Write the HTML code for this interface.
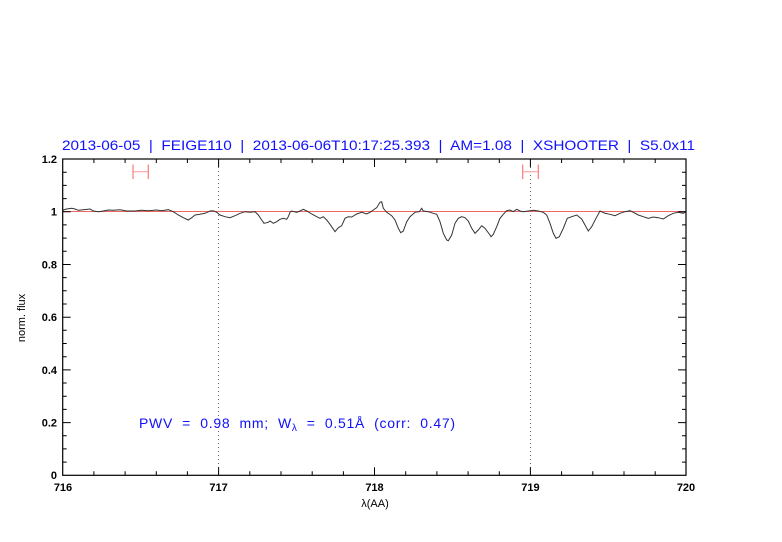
<!DOCTYPE html>
<html><head><meta charset="utf-8"><style>
html,body{margin:0;padding:0;background:#fff;}
svg{display:block;}
text{font-family:"Liberation Sans",sans-serif;white-space:pre;}
</style></head><body>
<svg width="782" height="542" viewBox="0 0 782 542" xmlns="http://www.w3.org/2000/svg" xml:space="preserve">
<rect width="782" height="542" fill="#fff"/>
<!-- title -->
<text x="62" y="150" font-size="14" fill="#1010ff" textLength="633" lengthAdjust="spacingAndGlyphs">2013-06-05  |  FEIGE110  |  2013-06-06T10:17:25.393  |  AM=1.08  |  XSHOOTER  |  S5.0x11</text>
<!-- dotted verticals -->
<line x1="218.5" y1="159" x2="218.5" y2="475" stroke="#666" stroke-width="1" stroke-dasharray="1,3"/>
<line x1="530.5" y1="159" x2="530.5" y2="475" stroke="#666" stroke-width="1" stroke-dasharray="1,3"/>
<!-- reference line -->
<line x1="62.7" y1="211.5" x2="686" y2="211.5" stroke="#ee6666" stroke-width="1"/>
<!-- error bars -->
<g stroke="#f77" stroke-width="1.2">
<line x1="133" y1="171.7" x2="148.3" y2="171.7" stroke="#faa"/>
<line x1="133" y1="164.5" x2="133" y2="179"/>
<line x1="148.3" y1="164.5" x2="148.3" y2="179"/>
<line x1="522.7" y1="171.7" x2="538.3" y2="171.7" stroke="#faa"/>
<line x1="522.7" y1="164.5" x2="522.7" y2="179"/>
<line x1="538.3" y1="164.5" x2="538.3" y2="179"/>
</g>
<!-- spectrum -->
<polyline fill="none" stroke="#333" stroke-width="1" points="
62.7,210.7 63.3,210 66.7,209 71.7,208.3 75,209 78.3,210.3 83.3,209.7 90,209 93.3,211 98.3,211.7 103.3,211 108.3,210 113.3,210.3 120,209.7 126.7,211 135,211 141.7,210.3 148.3,210.7 156.7,210 161.7,210.7 168.3,209.7 173.3,211.7 178.3,215 183.3,217.7 188.3,220 191.7,217.7 195,215 200,214.3 205,213.3 210,211 213.3,210.7 216.7,212.3 220,215 225,216.7 230,217.7 235,215.7 240,213.3 245,211.7 250,212.3 255,211.7 258.3,215 261.7,220 264,223.3 268.3,222.3 270,221 273.3,223.3 276.7,221.7 280,219.3 283.3,218.3 286.7,219.3 288.3,216.7 290,212.3 291.7,211 296.7,212.3 300,211 303.3,209.3 306.7,211 311.7,214 316.7,216.7 320,218.3 323.3,216.7 326.7,220 330,224.3 335,231.7 338.3,227.7 341.7,225.7 345,218.3 348.3,216.7 351.7,217 356.7,214 361.7,212.3 366.7,214 370,212.3 373.3,210 376.7,207.7 380,202.3 381.7,201.7 383.3,208.3 386.7,212.3 391.7,215.7 395,220 398.3,228.3 400.7,232.7 403.3,231 406.7,221.7 410,216.7 415,212.3 419.3,211.7 421.7,208.3 423.3,211 428.3,211.7 433.3,213.3 436.7,214.3 440,221.7 443.3,233.3 446.7,240 448.3,240.7 451.7,235 455,223.3 458.3,218.3 461.7,216.7 465,217.7 468.3,221 471.7,228.3 475,233.3 478.3,230 481.7,225.7 485,228.3 490,235 491,236.7 493.3,234.3 496.7,226.7 500,218.3 503.3,214.3 506.7,210.7 510,210 513.3,211.7 516.7,209.3 520,211 523.3,211.7 528.3,211 533.3,210.3 538.3,211 543.3,212.3 546.7,215 550,223.3 553.3,233.3 556,238.3 559.3,236.7 563.3,228.3 567.3,218.3 571.7,216.7 576.7,215 581.7,219 585,225 588.3,231 591.7,226.7 596,218.3 600,211 605,213.3 610,214.3 615,215.7 620,213.3 625,211.7 630,210.7 633.3,212.3 638.3,215 643.3,216.7 648.3,218.3 653.3,217 658.3,217.7 663.3,219 668.3,215.7 673.3,213.3 678.3,212.3 683.3,213.3 686,211.7"/>
<!-- frame -->
<rect x="62.7" y="159" width="623.3" height="316.3" fill="none" stroke="#000" stroke-width="1.2"/>
<g stroke="#000" stroke-width="1">
<path d="M93.9,475.3v-4M125.1,475.3v-4M156.3,475.3v-4M187.4,475.3v-4M218.6,475.3v-8M249.8,475.3v-4M281,475.3v-4M312.2,475.3v-4M343.4,475.3v-4M374.5,475.3v-8M405.7,475.3v-4M436.9,475.3v-4M468.1,475.3v-4M499.3,475.3v-4M530.4,475.3v-8M561.6,475.3v-4M592.8,475.3v-4M624,475.3v-4M655.2,475.3v-4
M93.9,159v4M125.1,159v4M156.3,159v4M187.4,159v4M218.6,159v8M249.8,159v4M281,159v4M312.2,159v4M343.4,159v4M374.5,159v8M405.7,159v4M436.9,159v4M468.1,159v4M499.3,159v4M530.4,159v8M561.6,159v4M592.8,159v4M624,159v4M655.2,159v4"/>
<path d="M62.7,462.1h4M62.7,448.9h4M62.7,435.7h4M62.7,422.6h8M62.7,409.4h4M62.7,396.2h4M62.7,383h4M62.7,369.9h8M62.7,356.7h4M62.7,343.5h4M62.7,330.3h4M62.7,317.2h8M62.7,304h4M62.7,290.8h4M62.7,277.6h4M62.7,264.5h8M62.7,251.3h4M62.7,238.1h4M62.7,224.9h4M62.7,211.8h8M62.7,198.6h4M62.7,185.4h4M62.7,172.2h4
M686,462.1h-4M686,448.9h-4M686,435.7h-4M686,422.6h-8M686,409.4h-4M686,396.2h-4M686,383h-4M686,369.9h-8M686,356.7h-4M686,343.5h-4M686,330.3h-4M686,317.2h-8M686,304h-4M686,290.8h-4M686,277.6h-4M686,264.5h-8M686,251.3h-4M686,238.1h-4M686,224.9h-4M686,211.8h-8M686,198.6h-4M686,185.4h-4M686,172.2h-4"/>
</g>
<!-- y labels -->
<g font-size="11" fill="#000" text-anchor="end" font-weight="bold">
<text x="57" y="479">0</text>
<text x="57" y="426.5">0.2</text>
<text x="57" y="373.8">0.4</text>
<text x="57" y="321">0.6</text>
<text x="57" y="268.4">0.8</text>
<text x="57" y="215.7">1</text>
<text x="57" y="163">1.2</text>
</g>
<!-- x labels -->
<g font-size="11" fill="#000" text-anchor="middle" font-weight="bold">
<text x="63" y="491">716</text>
<text x="218.6" y="491">717</text>
<text x="374.5" y="491">718</text>
<text x="530.4" y="491">719</text>
<text x="686" y="491">720</text>
<text x="375" y="507" font-weight="normal">λ(AA)</text>
</g>
<text x="0" y="0" font-size="11" fill="#000" text-anchor="middle" transform="translate(25,318) rotate(-90)">norm. flux</text>
<!-- PWV -->
<text x="139" y="428" font-size="14" fill="#1010ff" textLength="316" lengthAdjust="spacing">PWV  =  0.98  mm;  W<tspan font-size="10" dy="3">λ</tspan><tspan dy="-3">  =  0.51Å  (corr:  0.47)</tspan></text>
</svg>
</body></html>
